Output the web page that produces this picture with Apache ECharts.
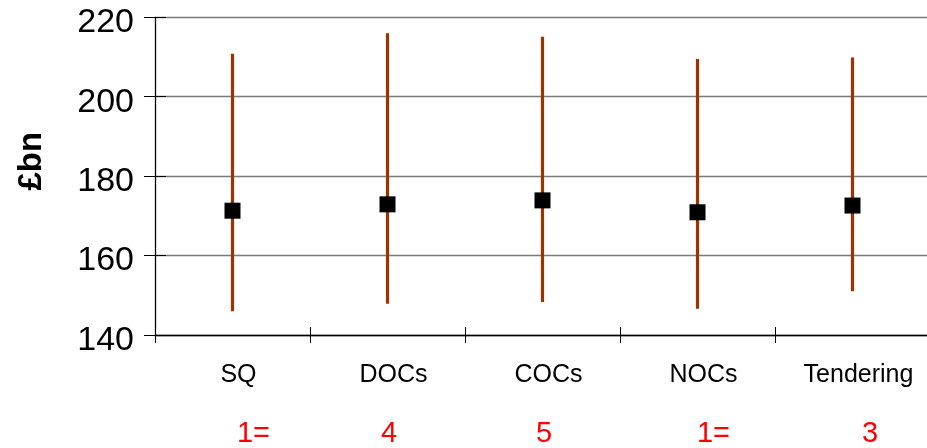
<!DOCTYPE html>
<html><head><meta charset="utf-8">
<script src="https://cdn.jsdelivr.net/npm/echarts@6/dist/echarts.min.js"></script>
<style>html,body{margin:0;padding:0;background:#fff;overflow:hidden;width:927px;height:448px}#c{width:932px;height:448px}</style>
</head><body><div id="c"></div>
<script>
var categories = ['SQ', 'DOCs', 'COCs', 'NOCs', 'Tendering'];
var ranks = ['1=', '4', '5', '1=', '3'];
var meanValues = [171.3, 172.9, 173.9, 170.9, 172.6];
var highValues = [210.8, 216.0, 215.1, 209.5, 209.9];
var lowValues = [146.0, 147.9, 148.3, 146.6, 151.0];
var yTicks = [140, 160, 180, 200, 220];

var FONT = 'Liberation Sans, Arial, sans-serif';
var rankShift = [42, 3, 3, 32, 35];
var rich = {};
rankShift.forEach(function (p, i) {
  rich['r' + i] = { color: '#ff0000', fontSize: 29, fontFamily: FONT, padding: [0, 0, 0, p] };
});

var chart = echarts.init(document.getElementById('c'), null, { renderer: 'canvas' });
var rangeData = categories.map(function (c, i) { return [i, lowValues[i], highValues[i]]; });
var meanData = categories.map(function (c, i) { return [i, meanValues[i]]; });

chart.setOption({
  animation: false,
  backgroundColor: '#fff',
  grid: { left: 155, width: 775, top: 17.3, height: 318.7 },
  xAxis: [
    {
      type: 'category', data: categories, position: 'bottom', boundaryGap: true,
      axisLine: { lineStyle: { color: '#000', width: 1.3 } },
      axisTick: { show: true, inside: false, length: 8, lineStyle: { color: '#000' } },
      axisLabel: { color: '#000', fontSize: 25, fontFamily: FONT, margin: 28, padding: [0, 0, 0, 12], interval: 0 },
      splitLine: { show: false }
    },
    {
      type: 'category', data: categories, position: 'bottom', boundaryGap: true,
      axisLine: { show: false },
      axisTick: { show: true, inside: true, length: 8, lineStyle: { color: '#000' } },
      axisLabel: { show: false }, splitLine: { show: false }
    },
    {
      type: 'category', data: ranks, position: 'bottom', offset: 70, boundaryGap: true,
      axisLine: { show: false }, axisTick: { show: false },
      axisLabel: {
        interval: 0, margin: 14,
        formatter: function (v, i) { return '{r' + i + '|' + v + '}'; },
        rich: rich
      },
      splitLine: { show: false }
    }
  ],
  yAxis: [
    {
      type: 'value', min: 140, max: 220, interval: 20, position: 'left',
      name: '£bn', nameLocation: 'middle', nameRotate: 90, nameGap: 107,
      nameTextStyle: { color: '#000', fontSize: 33, fontWeight: 'bold', fontFamily: FONT, padding: [0, 0, 0, 30] },
      axisLine: { show: true, lineStyle: { color: '#000', width: 1.3 } },
      axisTick: { show: true, inside: false, length: 11, lineStyle: { color: '#000' } },
      axisLabel: {
        color: '#000', fontSize: 34, fontFamily: FONT, margin: 21,
        verticalAlign: 'top', lineHeight: 11,
        formatter: function (v) { return yTicks.indexOf(v) >= 0 ? String(v) : ''; }
      },
      splitLine: { show: true, lineStyle: { color: '#7a7a7a', width: 1.3 } }
    },
    {
      type: 'value', min: 140, max: 220, interval: 20, position: 'left',
      axisLine: { show: false },
      axisTick: { show: true, inside: true, length: 11, lineStyle: { color: '#000' } },
      axisLabel: { show: false }, splitLine: { show: false }
    }
  ],
  series: [
    {
      type: 'custom', xAxisIndex: 0, yAxisIndex: 0, data: rangeData,
      renderItem: function (params, api) {
        var lo = api.coord([api.value(0), api.value(1)]);
        var hi = api.coord([api.value(0), api.value(2)]);
        return {
          type: 'line',
          shape: { x1: lo[0], y1: lo[1], x2: hi[0], y2: hi[1] },
          style: { stroke: '#9c3300', lineWidth: 3.2 }
        };
      },
      z: 2
    },
    {
      type: 'scatter', xAxisIndex: 0, yAxisIndex: 0, data: meanData,
      symbol: 'rect', symbolSize: 16, itemStyle: { color: '#000', opacity: 1 }, z: 3
    }
  ]
});
</script></body></html>
